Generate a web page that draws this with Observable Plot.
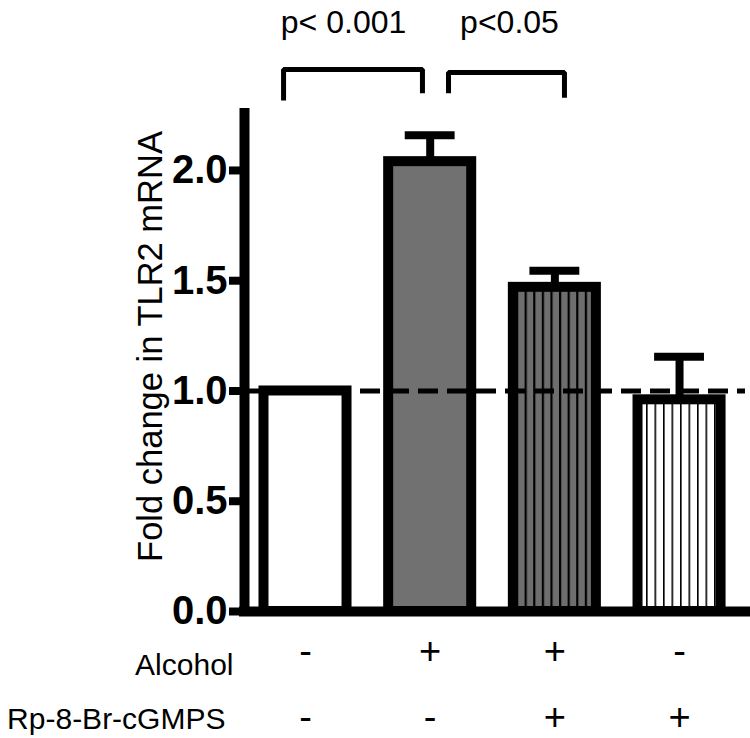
<!DOCTYPE html>
<html><head><meta charset="utf-8">
<script src="https://cdn.jsdelivr.net/npm/d3@7"></script>
<script src="https://cdn.jsdelivr.net/npm/@observablehq/plot@0.6"></script>
<style>
html,body{margin:0;padding:0;background:#fff;}
#chart svg{display:block;}
</style></head><body><div id="chart"></div>
<script>
// ---------- data ----------
const groups = ["Control", "Alcohol", "Alcohol + Rp-8-Br-cGMPS", "Rp-8-Br-cGMPS"];
const foldChange = [1.00, 2.04, 1.47, 0.96];
const errorTop = [null, 2.16, 1.545, 1.155];
const alcoholRow = ["-", "+", "+", "-"];
const rpRow = ["-", "-", "+", "+"];
const rowLabels = ["Alcohol", "Rp-8-Br-cGMPS"];
const pLabels = ["p< 0.001", "p<0.05"];
const pFrom = [1, 2];
const pTo = [2, 3];
const yTicks = [0, 0.5, 1.0, 1.5, 2.0];
const referenceLevel = 1.0;
const yLabel = "Fold change in TLR2 mRNA";

// ---------- layout / style ----------
const xMin = 0.5107, xMax = 4.529, yMax = 2.281;
const barFills = ["white", "#717171", "url(#grayStripes)", "url(#whiteStripes)"];
const halfBar = 0.333, halfCap = 0.2;
const bracketLayout = [
  {off0: -0.176, off1: -0.062, top: 2.458, leg0: 2.317, leg1: 2.35, tx: 1.305, ty: 2.671},
  {off0: 0.147, off1: 0.077, top: 2.444, leg0: 2.35, leg1: 2.33, tx: 2.636, ty: 2.671}
];
const signRowY = [-0.236, -0.538];
const labelRowY = [-0.286, -0.531];
const labelRowX = [0.4225, 0.358];
const yTitlePos = {x: -0.243, y: 1.2018};

// ---------- tables ----------
const bars = groups.map((g, i) => ({group: g, x: i + 1, value: foldChange[i], err: errorTop[i], fill: barFills[i]}));
const errBars = bars.filter(d => d.err != null);
const bracketPts = [];
pLabels.forEach((lab, k) => {
  const L = bracketLayout[k];
  const a = pFrom[k] + L.off0, b = pTo[k] + L.off1;
  bracketPts.push({id: k, x: a, y: L.leg0}, {id: k, x: a, y: L.top}, {id: k, x: b, y: L.top}, {id: k, x: b, y: L.leg1});
});
const pTexts = pLabels.map((lab, k) => ({label: lab, x: bracketLayout[k].tx, y: bracketLayout[k].ty}));
const signs = [];
[alcoholRow, rpRow].forEach((row, r) => row.forEach((s, i) => signs.push({s, x: i + 1, y: signRowY[r]})));
const rowLabelData = rowLabels.map((l, r) => ({l, x: labelRowX[r], y: labelRowY[r]}));

const chart = Plot.plot({
  width: 750,
  height: 738,
  marginLeft: 244,
  marginRight: 5,
  marginTop: 108,
  marginBottom: 127,
  style: {fontFamily: "'Liberation Sans', Arial, sans-serif", background: "white", color: "black", overflow: "visible"},
  x: {type: "linear", domain: [xMin, xMax], axis: null},
  y: {domain: [0, yMax], axis: null},
  color: {type: "identity"},
  marks: [
    Plot.rect(bars, {x1: d => d.x - halfBar, x2: d => d.x + halfBar, y1: 0, y2: "value", fill: "fill", stroke: "black", strokeWidth: 10}),
    Plot.ruleY([referenceLevel], {stroke: "black", strokeWidth: 5, strokeDasharray: "20,9"}),
    Plot.ruleX(errBars, {x: "x", y1: "value", y2: "err", stroke: "black", strokeWidth: 8}),
    Plot.ruleY(errBars, {y: "err", x1: d => d.x - halfCap, x2: d => d.x + halfCap, stroke: "black", strokeWidth: 8}),
    Plot.ruleX([xMin], {y1: 0, y2: yMax, stroke: "black", strokeWidth: 10}),
    Plot.ruleY([0], {x1: xMin, x2: xMax, stroke: "black", strokeWidth: 10, strokeLinecap: "square"}),
    Plot.axisY({ticks: yTicks, tickFormat: d3.format(".1f"), tickSize: 15, tickPadding: 2, fontSize: 40, fontWeight: "bold", strokeWidth: 8, label: null}),
    Plot.line(bracketPts, {x: "x", y: "y", z: "id", stroke: "black", strokeWidth: 5, strokeLinejoin: "miter", strokeLinecap: "butt"}),
    Plot.text(pTexts, {x: "x", y: "y", text: "label", fontSize: 32}),
    Plot.text(signs, {x: "x", y: "y", text: "s", fontSize: 38, lineAnchor: "bottom"}),
    Plot.text(rowLabelData, {x: "x", y: "y", text: "l", fontSize: 30, textAnchor: "end", lineAnchor: "bottom"}),
    Plot.text([yLabel], {x: yTitlePos.x, y: yTitlePos.y, text: d => d, rotate: -90, fontSize: 34.5})
  ]
});

// patterns for bar fills
const svg = d3.select(chart);
const defs = svg.insert("defs", ":first-child");
const p1 = defs.append("pattern").attr("id", "grayStripes").attr("patternUnits", "userSpaceOnUse").attr("width", 8.6).attr("height", 10);
p1.append("rect").attr("width", 8.6).attr("height", 10).attr("fill", "#6e6e6e");
p1.append("rect").attr("x", 0).attr("width", 2.2).attr("height", 10).attr("fill", "black");
const p2 = defs.append("pattern").attr("id", "whiteStripes").attr("patternUnits", "userSpaceOnUse").attr("width", 8.5).attr("height", 10);
p2.append("rect").attr("width", 8.5).attr("height", 10).attr("fill", "white");
p2.append("rect").attr("x", 0).attr("width", 1.6).attr("height", 10).attr("fill", "black");

document.getElementById("chart").appendChild(chart);
</script>
</body></html>
